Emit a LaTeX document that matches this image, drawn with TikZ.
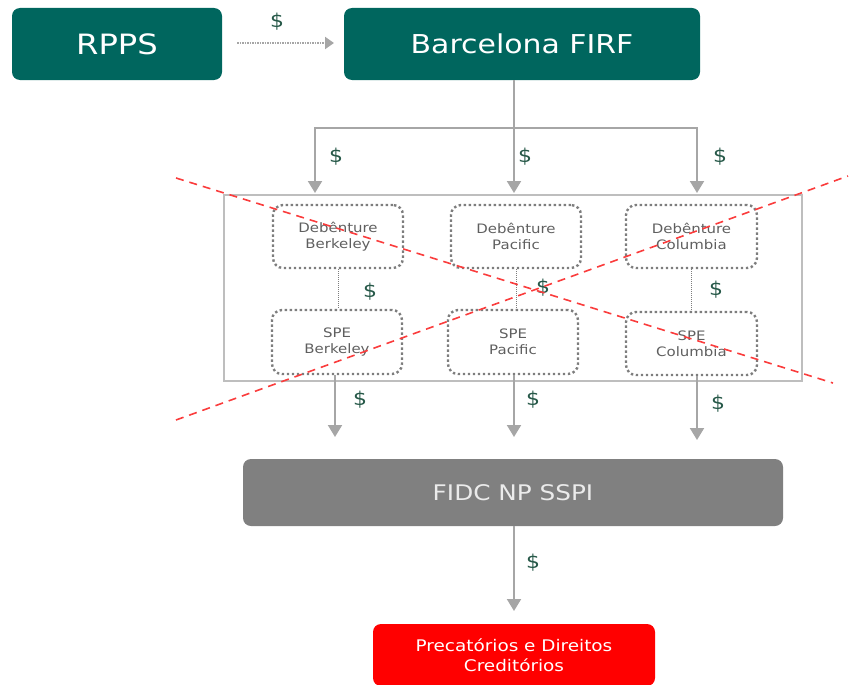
\documentclass[tikz,border=0pt]{standalone}
\usepackage{fontspec}
\setmainfont[FakeStretch=1.15]{DejaVu Sans}
\usetikzlibrary{arrows.meta,calc}
\definecolor{tealbox}{RGB}{0,102,94}
\definecolor{arrowgray}{RGB}{166,166,166}
\definecolor{fidcgray}{RGB}{128,128,128}
\definecolor{fidctext}{RGB}{235,235,235}
\definecolor{dollargreen}{RGB}{38,88,72}
\definecolor{txtgray}{RGB}{95,95,95}
\definecolor{framegray}{RGB}{190,190,190}
\definecolor{crossred}{RGB}{250,60,60}
\definecolor{dotgray}{RGB}{125,125,125}
\definecolor{redbox}{RGB}{255,0,0}
\begin{document}
\begin{tikzpicture}[x=1pt,y=-1pt,
  mainbox/.style={fill=tealbox, rounded corners=8pt, text=white, minimum height=72pt, inner sep=0pt,
    font=\fontsize{26}{30}\selectfont},
  dotbox/.style={draw=dotgray, line width=2.4pt, dash pattern=on 2.4pt off 2.6pt, rounded corners=10pt,
    minimum width=130pt, minimum height=63pt, inner sep=0pt, align=center, text=txtgray,
    font=\fontsize{13}{16}\selectfont},
  flow/.style={draw=arrowgray, line width=2pt, -{Triangle[width=14pt,length=12pt]}},
  plain/.style={draw=arrowgray, line width=2pt},
  money/.style={text=dollargreen, font=\fontsize{19}{22}\selectfont, inner sep=0pt},
  cross/.style={draw=crossred, line width=1.6pt, dash pattern=on 8pt off 6pt},
  link/.style={draw=dotgray, line width=0.8pt, dash pattern=on 1pt off 1pt}
]
\useasboundingbox (0,0) rectangle (851,685);

% top boxes
\node[mainbox, minimum width=210pt] (rpps) at (117,44) {\fontsize{28}{30}\selectfont RPPS};
\node[mainbox, minimum width=356pt] (barc) at (522,44) {Barcelona FIRF};
\coordinate (rs) at (237,43);
\coordinate (re) at (334,43);
\draw[draw=arrowgray, line width=2pt, dash pattern=on 1.5pt off 1pt, -{Triangle[width=12pt,length=9pt]}]
  (rs) -- (re);
\node[money] at (277,22) {\$};

% outer frame
\draw[draw=framegray, line width=1.3pt] (224,195) rectangle (802,381);

% debentures and SPEs
\node[dotbox] (debB) at (338,236.5) {Debênture\\Berkeley};
\node[dotbox] (debP) at (516,236.5) {Debênture\\Pacific};
\node[dotbox, minimum width=131pt] (debC) at (691.5,236.5) {Debênture\\Columbia};
\node[dotbox, minimum height=64pt] (speB) at (337,342) {SPE\\Berkeley};
\node[dotbox, minimum height=64pt] (speP) at (513,342) {SPE\\Pacific};
\node[dotbox, minimum height=63pt, minimum width=131pt] (speC) at (691.5,343.5) {SPE\\Columbia};

% links deb -> spe
\draw[link] (debB.south) -- (debB.south |- speB.north);
\draw[link] (debP.south) -- (debP.south |- speP.north);
\draw[link] (debC.south) -- (debC.south |- speC.north);
\node[money] at (370,292) {\$};
\node[money] at (543,288) {\$};
\node[money] at (716,290) {\$};

% barcelona split
\coordinate (split) at (514,128);
\coordinate (hl) at (315,128);
\coordinate (hr) at (697,128);
\coordinate (aB) at (315,193);
\coordinate (aP) at (514,193);
\coordinate (aC) at (697,193);
\draw[plain] (split |- barc.south) -- (split);
\draw[plain, line cap=rect] (hl) -- (hr);
\draw[flow] (hl) -- (aB);
\draw[flow] (split) -- (aP);
\draw[flow] (hr) -- (aC);
\node[money] at (336,157) {\$};
\node[money] at (525,157) {\$};
\node[money] at (720,157) {\$};

% FIDC
\node[fill=fidcgray, rounded corners=8pt, minimum width=540pt, minimum height=67pt, inner sep=0pt,
  text=fidctext, font=\fontsize{21.5}{24}\selectfont] (fidc) at (513,492.5) {FIDC NP SSPI};

% SPE -> FIDC arrows
\coordinate (bB) at (335,437);
\coordinate (bP) at (514,437);
\coordinate (bC) at (697,440);
\draw[flow] (bB |- speB.south) -- (bB);
\draw[flow] (bP |- speP.south) -- (bP);
\draw[flow] (bC |- speC.south) -- (bC);
\node[money] at (360,400) {\$};
\node[money] at (533,400) {\$};
\node[money] at (718,404) {\$};

% bottom
\node[fill=redbox, rounded corners=8pt, minimum width=282pt, minimum height=62pt, inner sep=0pt,
  text=white, align=center, font=\fontsize{16}{20}\selectfont] (prec) at (514,655)
  {Precatórios e Direitos\\Creditórios};
\coordinate (cEnd) at (514,611);
\draw[flow] (cEnd |- fidc.south) -- (cEnd);
\node[money] at (533,563) {\$};

% red cross
\coordinate (x1s) at (176,178);
\coordinate (x1e) at (833,383);
\coordinate (x2s) at (176,420);
\coordinate (x2e) at (848,176);
\draw[cross] (x1s) -- (x1e);
\draw[cross] (x2s) -- (x2e);
\end{tikzpicture}
\end{document}
